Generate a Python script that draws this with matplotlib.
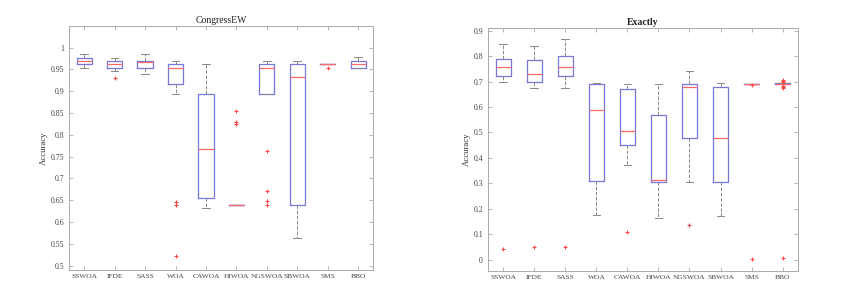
import matplotlib.pyplot as plt
import numpy as np

plt.rcParams['font.family'] = ['Liberation Serif', 'DejaVu Serif']

algos = ['SSWOA', 'IFDE', 'SASS', 'WOA', 'CAWOA', 'HIWOA', 'NGSWOA', 'SBWOA', 'SMS', 'BBO']

# CongressEW
cg_med = [0.969, 0.962, 0.966, 0.954, 0.767, 0.638, 0.954, 0.932, 0.9625, 0.9625]
cg_q1 = [0.962, 0.953, 0.953, 0.916, 0.654, 0.638, 0.893, 0.638, 0.9625, 0.954]
cg_q3 = [0.977, 0.969, 0.969, 0.962, 0.893, 0.638, 0.9625, 0.9625, 0.9625, 0.969]
cg_lo = [0.954, 0.946, 0.939, 0.893, 0.631, 0.638, 0.893, 0.563, 0.9625, 0.954]
cg_hi = [0.985, 0.977, 0.985, 0.969, 0.9625, 0.638, 0.969, 0.969, 0.9625, 0.978]
cg_out = [[], [0.931], [], [0.646, 0.639, 0.523], [], [0.855, 0.830, 0.824],
          [0.763, 0.670, 0.648, 0.639], [], [0.954], []]

# Exactly
ex_med = [0.758, 0.730, 0.758, 0.588, 0.504, 0.312, 0.677, 0.479, 0.692, 0.691]
ex_q1 = [0.720, 0.697, 0.720, 0.308, 0.449, 0.307, 0.479, 0.307, 0.692, 0.689]
ex_q3 = [0.789, 0.784, 0.801, 0.690, 0.669, 0.569, 0.692, 0.678, 0.692, 0.693]
ex_lo = [0.697, 0.674, 0.673, 0.175, 0.371, 0.163, 0.307, 0.171, 0.692, 0.689]
ex_hi = [0.849, 0.841, 0.869, 0.694, 0.692, 0.692, 0.742, 0.696, 0.692, 0.693]
ex_out = [[0.042], [0.050], [0.050], [], [0.110], [], [0.137], [], [0.688, 0.001],
          [0.708, 0.703, 0.698, 0.684, 0.679, 0.675, 0.008]]


def draw(ax, med, q1, q3, lo, hi, out, title, yt, ylim, bold):
    stats = []
    for i in range(len(algos)):
        stats.append(dict(med=med[i], q1=q1[i], q3=q3[i], whislo=lo[i],
                          whishi=hi[i], fliers=out[i], label=algos[i]))
    ax.bxp(stats, widths=0.5,
           boxprops=dict(color='#7777dd', linewidth=0.9),
           medianprops=dict(color='#ff6a6a', linewidth=0.9),
           whiskerprops=dict(color='#888888', linestyle='--', linewidth=0.7),
           capprops=dict(color='#888888', linewidth=0.7),
           flierprops=dict(marker='+', color='#ff4444', markeredgecolor='#ff4444',
                           markerfacecolor='#ff4444', markersize=3.5,
                           markeredgewidth=0.8, linestyle='none'))
    ax.set_xlim(0.5, 10.5)
    ax.set_ylim(*ylim)
    ax.set_yticks(yt)
    ax.set_yticklabels(['%g' % v for v in yt])
    ax.tick_params(direction='in', top=True, right=True, length=3, width=0.6,
                   colors='#aaaaaa', labelcolor='#444444', labelsize=5.6)
    ax.tick_params(axis='x', labelsize=5.4, pad=3)
    for s in ax.spines.values():
        s.set_color('#aaaaaa')
        s.set_linewidth(0.7)
    ax.set_ylabel('Accuracy', fontsize=6.3, color='#333333', labelpad=2)
    ax.set_title(title, fontsize=7, fontweight='bold' if bold else 'normal',
                 color='#222222', pad=2)


fig = plt.figure(figsize=(8.41, 2.99), dpi=100)
ax1 = fig.add_axes([0.082, 0.097, 0.362, 0.817])
ax2 = fig.add_axes([0.580, 0.095, 0.369, 0.811])

draw(ax1, cg_med, cg_q1, cg_q3, cg_lo, cg_hi, cg_out, 'CongressEW',
     np.round(np.arange(0.5, 1.001, 0.05), 2), (0.49, 1.05), False)
draw(ax2, ex_med, ex_q1, ex_q3, ex_lo, ex_hi, ex_out, 'Exactly',
     np.round(np.arange(0, 0.901, 0.1), 1), (-0.043, 0.91), True)

fig.savefig('out.png', dpi=100)
